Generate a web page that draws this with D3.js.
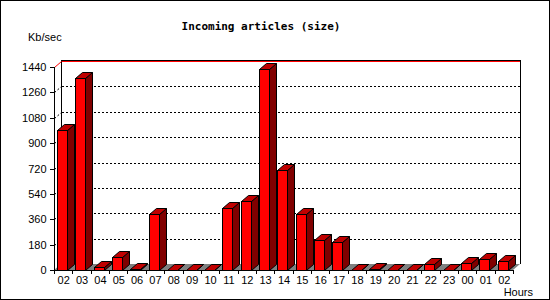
<!DOCTYPE html>
<html><head><meta charset="utf-8">
<script src="https://cdn.jsdelivr.net/npm/d3@7"></script>
<style>
html,body{margin:0;padding:0;background:#fff;}
svg{display:block;}
text{font-family:"Liberation Sans",Arial,sans-serif;font-size:11px;fill:#000;}
.title{font-family:"DejaVu Sans Mono",monospace;font-weight:bold;font-size:11px;}
</style></head>
<body>
<svg id="c" width="550" height="300"></svg>
<script>
const hours = ["02","03","04","05","06","07","08","09","10","11","12","13","14","15","16","17","18","19","20","21","22","23","00","01","02"];
const sizes = [990,1365,24,90,10,400,2,2,2,437,486,1428,706,394,210,196,2,6,2,2,40,2,53,76,67];
const yTicks = [0,180,360,540,720,900,1080,1260,1440];
const titleText = "Incoming articles (size)";
const yUnit = "Kb/sec";
const xUnit = "Hours";

const W = 550, H = 300;
const pLeft = 54, pRight = 513, pBottom = 270, pTop = 67;
const dx = 7, dy = 6;

const svg = d3.select("#c");
svg.append("rect").attr("x",0.5).attr("y",0.5).attr("width",W-1).attr("height",H-1)
  .attr("fill","#fff").attr("stroke","#000");

const idx = d3.range(hours.length);
const x = d3.scaleBand().domain(idx).range([pLeft,pRight]).padding(0);
const y = d3.scaleLinear().domain([0,1440]).range([pBottom,pTop]);

// floor
svg.append("polygon")
  .attr("points",[[pLeft,pBottom],[pRight,pBottom],[pRight+dx,pBottom-dy],[pLeft+dx,pBottom-dy]].map(p=>p.join(",")).join(" "))
  .attr("fill","#808080");

const g = svg.append("g").attr("shape-rendering","crispEdges");

// back wall frame
g.append("line").attr("x1",pLeft+dx+0.5).attr("x2",pLeft+dx+0.5).attr("y1",y(1440)-dy-1).attr("y2",pBottom-dy).attr("stroke","#000");
g.append("line").attr("x1",pRight+dx+0.5).attr("x2",pRight+dx+0.5).attr("y1",y(1440)-dy-1).attr("y2",pBottom-dy).attr("stroke","#000");
g.append("line").attr("x1",pLeft+dx).attr("x2",pRight+dx+1).attr("y1",Math.round(y(1440))-dy-0.5).attr("y2",Math.round(y(1440))-dy-0.5).attr("stroke","#000");

// gridlines
yTicks.filter(v=>v>0).forEach(v=>{
  const yy = Math.round(y(v));
  const isTop = v===1440;
  const col = isTop ? "#ff0000" : "#000";
  const dash = isTop ? null : "2,2";
  svg.append("line").attr("x1",pLeft+0.5).attr("y1",yy+0.5).attr("x2",pLeft+dx+0.5).attr("y2",yy-dy+0.5)
    .attr("stroke",col).attr("stroke-dasharray",dash);
  g.append("line").attr("x1",pLeft+dx+1).attr("x2",pRight+dx).attr("y1",yy-dy+0.5).attr("y2",yy-dy+0.5)
    .attr("stroke",col).attr("stroke-dasharray",dash);
});

// bars
const bw = 10;
const bars = svg.append("g");
idx.forEach(i=>{
  const x0 = Math.round(x(i)+3)+0.5;
  const x1 = x0+bw;
  const yt = Math.round(y(sizes[i]))+0.5;
  const yb = pBottom+0.5;
  bars.append("polygon").attr("points",[[x1,yb],[x1+dx,yb-dy],[x1+dx,yt-dy],[x1,yt]].map(p=>p.join(",")).join(" "))
    .attr("fill","#800000").attr("stroke","#000");
  bars.append("polygon").attr("points",[[x0,yt],[x1,yt],[x1+dx,yt-dy],[x0+dx,yt-dy]].map(p=>p.join(",")).join(" "))
    .attr("fill","#c00000").attr("stroke","#000");
  bars.append("rect").attr("x",x0).attr("y",yt).attr("width",bw).attr("height",Math.max(0,yb-yt))
    .attr("fill","#ff0000").attr("stroke","#000");
});

// y axis
const yAxis = d3.axisLeft(y).tickValues(yTicks).tickFormat(d3.format("d")).tickSize(5).tickPadding(3).tickSizeOuter(0);
const ya = svg.append("g").attr("transform",`translate(${pLeft+0.5},0)`).attr("shape-rendering","crispEdges").call(yAxis);
ya.select(".domain").attr("d",`M0,${Math.round(y(1440))}V${pBottom+0.5}`);
ya.selectAll(".tick").attr("transform",d=>`translate(0,${Math.round(y(d))+0.5})`);
ya.selectAll("text").style("font-family","'Liberation Sans',Arial,sans-serif").style("font-size","11px").attr("dy","0.36em");

// x axis baseline and ticks at slot boundaries
const bounds = idx.map(i=>x(i)).concat([pRight]);
g.append("line").attr("x1",pLeft).attr("x2",pRight+1).attr("y1",pBottom+0.5).attr("y2",pBottom+0.5).attr("stroke","#000");
bounds.forEach(b=>{
  g.append("line").attr("x1",Math.round(b)+0.5).attr("x2",Math.round(b)+0.5).attr("y1",pBottom).attr("y2",pBottom+4).attr("stroke","#000");
});
svg.append("g").selectAll("text").data(idx).join("text")
  .attr("x",i=>x(i)+x.bandwidth()/2+0.5).attr("y",284).attr("text-anchor","middle").text(i=>hours[i]);

// titles
svg.append("text").attr("class","title").attr("x",261).attr("y",30).attr("text-anchor","middle").text(titleText);
svg.append("text").attr("x",28).attr("y",40.5).text(yUnit);
svg.append("text").attr("x",533).attr("y",296).attr("text-anchor","end").text(xUnit);
</script>
</body></html>
